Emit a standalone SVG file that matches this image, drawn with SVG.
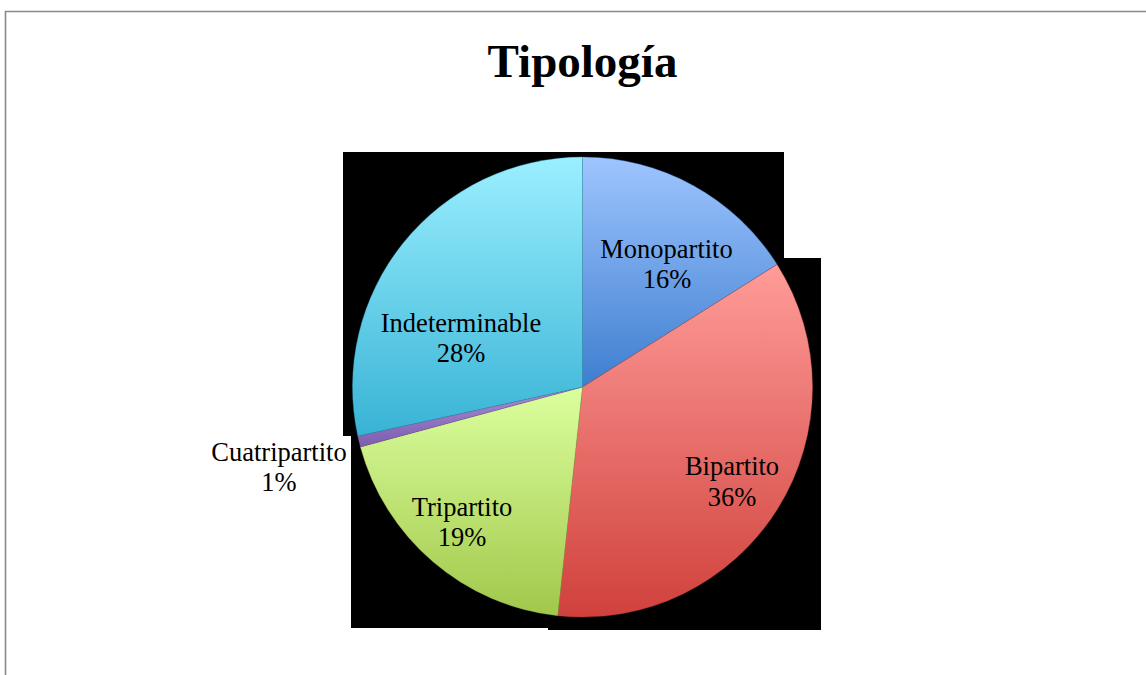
<svg xmlns="http://www.w3.org/2000/svg" width="1146" height="675" viewBox="0 0 1146 675">
<style>
.lbl{font-family:"Liberation Serif","Times New Roman",serif;font-size:26.5px;fill:#000;text-anchor:middle}
.title{font-family:"Liberation Serif","Times New Roman",serif;font-size:47px;font-weight:bold;fill:#000;text-anchor:middle}
.slice{stroke-width:0.6;stroke-opacity:0.6}
</style>
<defs>
<linearGradient id="gMono" x1="0" y1="0" x2="0" y2="1"><stop offset="0" stop-color="#9EC5FF"/><stop offset="1" stop-color="#3E7ECF"/></linearGradient>
<linearGradient id="gBi" x1="0" y1="0" x2="0" y2="1"><stop offset="0" stop-color="#FF9C99"/><stop offset="1" stop-color="#D0413C"/></linearGradient>
<linearGradient id="gTri" x1="0" y1="0" x2="0" y2="1"><stop offset="0" stop-color="#DCFF9E"/><stop offset="1" stop-color="#A1C84B"/></linearGradient>
<linearGradient id="gCua" x1="0" y1="0" x2="0" y2="1"><stop offset="0" stop-color="#A88CD8"/><stop offset="1" stop-color="#7D5EAF"/></linearGradient>
<linearGradient id="gInd" x1="0" y1="0" x2="0" y2="1"><stop offset="0" stop-color="#9BEFFF"/><stop offset="1" stop-color="#38B3D5"/></linearGradient>
</defs>
<rect x="0" y="0" width="1146" height="675" fill="#fff"/>
<path d="M5.5,675 V11.5 H1146" fill="none" stroke="#888" stroke-width="1.6"/>
<text class="title" x="582.5" y="77">Tipología</text>
<path id="shadow" d="M343,152 H784 V258 H821 V630 H548 V628 H351 V436 H343 Z" fill="#000"/>
<g id="monopartito">
<path class="slice" d="M582.5,387 L582.5,157 A230,230 0 0,1 777.1,264.4 Z" fill="url(#gMono)" stroke="#3A6FB5"/>
<text class="lbl" x="666.5" y="258">Monopartito</text>
<text class="lbl" x="667" y="288">16%</text>
</g>
<g id="bipartito">
<path class="slice" d="M582.5,387 L777.1,264.4 A230,230 0 0,1 557.7,615.7 Z" fill="url(#gBi)" stroke="#B8403C"/>
<text class="lbl" x="732" y="475">Bipartito</text>
<text class="lbl" x="732" y="506">36%</text>
</g>
<g id="tripartito">
<path class="slice" d="M582.5,387 L557.7,615.7 A230,230 0 0,1 360.4,446.9 Z" fill="url(#gTri)" stroke="#92B04A"/>
<text class="lbl" x="462" y="516">Tripartito</text>
<text class="lbl" x="462" y="546">19%</text>
</g>
<g id="cuatripartito">
<path class="slice" d="M582.5,387 L360.4,446.9 A230,230 0 0,1 357.8,436.0 Z" fill="url(#gCua)" stroke="#6E55A0"/>
<rect x="207" y="436" width="144" height="27" fill="#fff"/>
<text class="lbl" x="279" y="461">Cuatripartito</text>
<text class="lbl" x="279" y="491">1%</text>
</g>
<g id="indeterminable">
<path class="slice" d="M582.5,387 L357.8,436.0 A230,230 0 0,1 582.5,157 Z" fill="url(#gInd)" stroke="#3399BB"/>
<text class="lbl" x="461" y="332">Indeterminable</text>
<text class="lbl" x="461" y="362">28%</text>
</g>
<g id="connectors"></g>
</svg>
